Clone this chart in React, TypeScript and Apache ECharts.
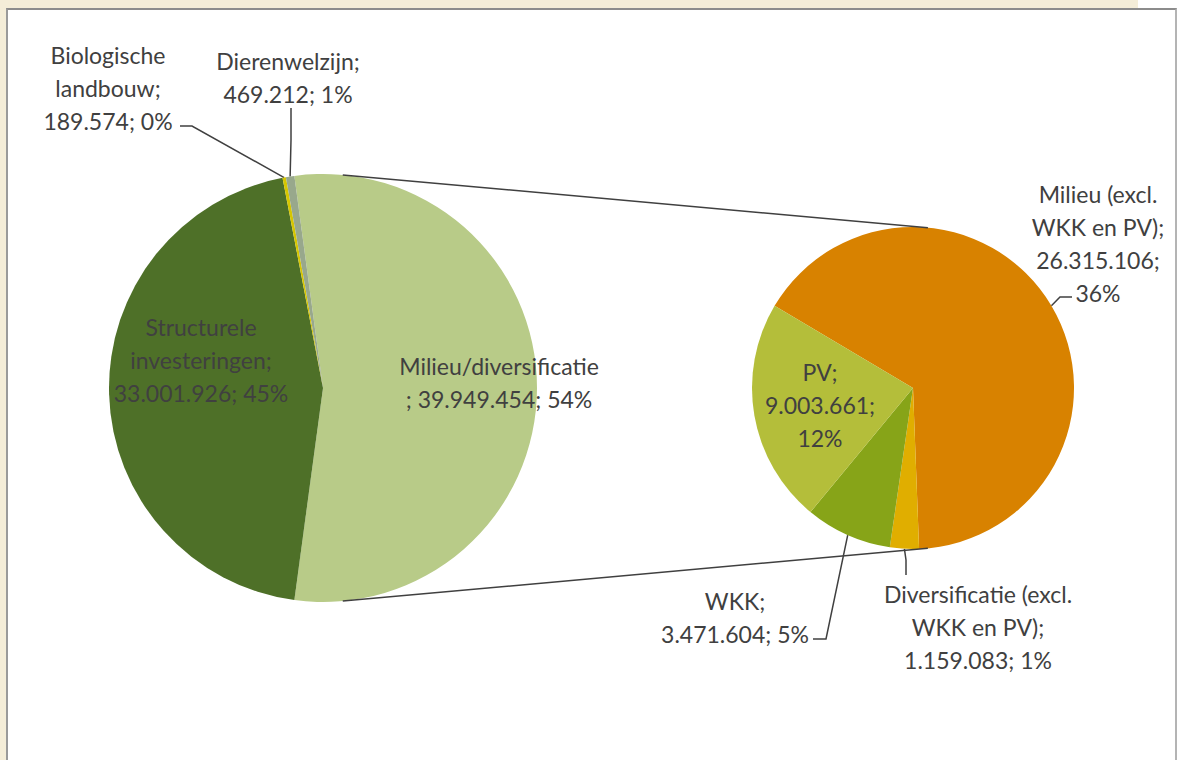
import React, { useEffect, useRef } from "react";
import * as echarts from "echarts";

// ---- data ----
const LEFT_NAMES = ["Milieu/diversificatie", "Structurele investeringen", "Biologische landbouw", "Dierenwelzijn"];
const LEFT_VALUES = [39949454, 33001926, 189574, 469212];
const LEFT_PCT = [54, 45, 0, 1];

const RIGHT_NAMES = ["Milieu (excl. WKK en PV)", "Diversificatie (excl. WKK en PV)", "WKK", "PV"];
const RIGHT_VALUES = [26315106, 1159083, 3471604, 9003661];
const RIGHT_PCT = [36, 1, 5, 12];

// label wrapping as in the original (line breaks only)
const LEFT_TEMPLATES = [
  "Milieu/diversificatie\n; {v}; {p}%",
  "Structurele\ninvesteringen;\n{v}; {p}%",
  "Biologische\nlandbouw;\n{v}; {p}%",
  "Dierenwelzijn;\n{v}; {p}%",
];
const RIGHT_TEMPLATES = [
  "Milieu (excl.\nWKK en PV);\n{v};\n{p}%",
  "Diversificatie (excl.\nWKK en PV);\n{v}; {p}%",
  "WKK;\n{v}; {p}%",
  "PV;\n{v};\n{p}%",
];

// ---- styling / layout ----
const LEFT_COLORS = ["#B8CB88", "#4E7028", "#D6C600", "#98A88C"];
const RIGHT_COLORS = ["#D88200", "#E0AE00", "#87A418", "#B4BE3A"];
const TEXT = "#404040";
const FONT = "Lato, 'Open Sans', sans-serif";

const PIES = [
  { cx: 323, cy: 388, r: 214 },
  { cx: 913, cy: 388, r: 161 },
];
const RIGHT_START = 149.3;
const CONNECT_ANGLE = 5.3; // degrees from top

// label centres (page px)
const LABEL_POS = [
  [[499, 382], [201, 360], [108, 88], [288, 77]],
  [[1098, 243], [978, 627], [735, 617], [820, 405]],
];
// leader bend/end points: [bend, end]
const LEADERS: (number[][] | null)[][] = [
  [null, null, [[192, 126], [180, 126]], [[291, 140], [291, 108]]],
  [[[1060, 297], [1072, 297]], [[906, 560], [906, 575]], [[826, 639], [813, 639]], null],
];

const fmt = (v: number) => v.toString().replace(/\B(?=(\d{3})+(?!\d))/g, ".");

function anchor(s: number, i: number, values: number[], startAngle: number) {
  const total = values.reduce((a, b) => a + b, 0);
  let before = 0;
  for (let k = 0; k < i; k++) before += values[k];
  const a = ((startAngle - ((before + values[i] / 2) / total) * 360) * Math.PI) / 180;
  const p = PIES[s];
  return [p.cx + p.r * Math.cos(a), p.cy - p.r * Math.sin(a)];
}

export default function App() {
  const ref = useRef<HTMLDivElement>(null);
  useEffect(() => {
    if (!ref.current) return;
    const chart = echarts.init(ref.current, undefined, { renderer: "svg" });
    const leftTotal = LEFT_VALUES.reduce((a, b) => a + b, 0);
    const leftStart = ((LEFT_VALUES[0] / leftTotal) * 360) / 2;
    const starts = [leftStart, RIGHT_START];
    const allValues = [LEFT_VALUES, RIGHT_VALUES];

    const mkData = (names: string[], values: number[], pct: number[], tpl: string[], colors: string[], s: number) =>
      names.map((n, i) => ({
        name: n,
        value: values[i],
        itemStyle: { color: colors[i] },
        label: {
          formatter: tpl[i].replace("{v}", fmt(values[i])).replace("{p}", String(pct[i])),
        },
        labelLine: { show: LEADERS[s][i] !== null },
      }));

    const labelStyle = {
      show: true,
      position: "outside",
      color: TEXT,
      fontFamily: FONT,
      fontSize: 23,
      lineHeight: 33,
      align: "center",
    };

    const conn = (sign: number) => {
      const a = (CONNECT_ANGLE * Math.PI) / 180;
      const p0 = PIES[0], p1 = PIES[1];
      return {
        type: "line",
        z: 10,
        shape: {
          x1: p0.cx + p0.r * Math.sin(a),
          y1: p0.cy - sign * p0.r * Math.cos(a),
          x2: p1.cx + p1.r * Math.sin(a),
          y2: p1.cy - sign * p1.r * Math.cos(a),
        },
        style: { stroke: TEXT, lineWidth: 1.5 },
      };
    };

    chart.setOption({
      animation: false,
      graphic: [conn(1), conn(-1)],
      series: [0, 1].map((s) => ({
        type: "pie",
        center: [PIES[s].cx, PIES[s].cy],
        radius: PIES[s].r,
        startAngle: starts[s],
        clockwise: true,
        avoidLabelOverlap: false,
        itemStyle: { borderWidth: 0 },
        label: labelStyle,
        labelLine: { lineStyle: { color: TEXT, width: 1.5 } },
        emphasis: { disabled: true },
        data:
          s === 0
            ? mkData(LEFT_NAMES, LEFT_VALUES, LEFT_PCT, LEFT_TEMPLATES, LEFT_COLORS, 0)
            : mkData(RIGHT_NAMES, RIGHT_VALUES, RIGHT_PCT, RIGHT_TEMPLATES, RIGHT_COLORS, 1),
        labelLayout: (params: any) => {
          const si = params.seriesIndex;
          const i = params.dataIndex;
          const pos = LABEL_POS[si][i];
          const lead = LEADERS[si][i];
          const res: any = { x: pos[0], y: pos[1], align: "center", verticalAlign: "middle" };
          if (lead) {
            res.labelLinePoints = [anchor(si, i, allValues[si], starts[si]), lead[0], lead[1]];
          }
          return res;
        },
      })),
    });
    return () => chart.dispose();
  }, []);

  return (
    <div style={{ position: "fixed", left: 0, top: 0, width: 1177, height: 760, background: "#fff", overflow: "hidden" }}>
      <div style={{ position: "absolute", left: 0, top: 0, width: 1138, height: 8, background: "#F4EDD8" }} />
      <div style={{ position: "absolute", left: 0, top: 0, width: 6, height: 760, background: "#F4EDD8" }} />
      <div
        style={{
          position: "absolute",
          left: 6,
          top: 8,
          width: 1171,
          height: 752,
          boxSizing: "border-box",
          borderTop: "2px solid #8C8C8C",
          borderLeft: "2px solid #9A9A9A",
          borderRight: "2px solid #B4B4B4",
          background: "#fff",
        }}
      />
      <div ref={ref} style={{ position: "absolute", left: 0, top: 0, width: 1177, height: 760 }} />
    </div>
  );
}
